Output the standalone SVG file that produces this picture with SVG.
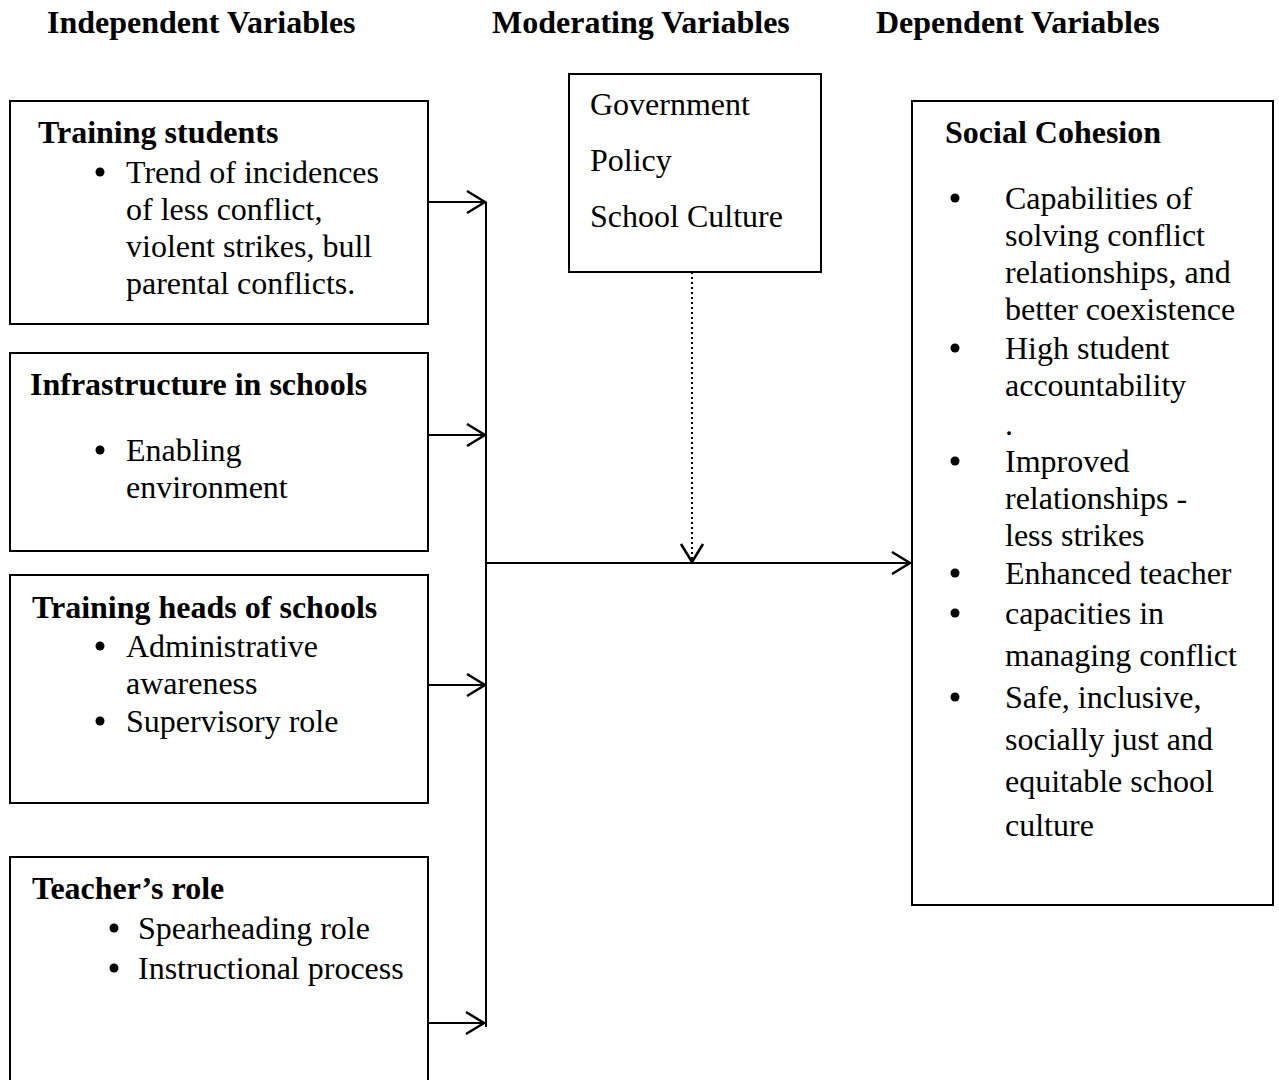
<svg xmlns="http://www.w3.org/2000/svg" width="1279" height="1080" viewBox="0 0 1279 1080">
<style>
text{font-family:"Liberation Serif","Times New Roman",serif;font-size:32px;fill:#000}
.b{font-weight:bold}
.box{fill:#fff;stroke:#000;stroke-width:2}
.ln{stroke:#000;stroke-width:2;fill:none}
.dot{fill:#000}
</style>
<defs>
<marker id="ah" viewBox="0 0 24 26" refX="21" refY="13" markerWidth="24" markerHeight="26" markerUnits="userSpaceOnUse" orient="auto">
<path d="M3,2 L21,13 L3,24" fill="none" stroke="#000" stroke-width="2.5"/>
</marker>
</defs>
<rect width="1279" height="1080" fill="#fff"/>
<g id="headers">
<text class="b" x="47" y="33">Independent Variables</text>
<text class="b" x="492" y="33">Moderating Variables</text>
<text class="b" x="876" y="33">Dependent Variables</text>
</g>
<g id="node-training-students">
<rect class="box" x="10" y="101" width="418" height="223"/>
<text class="b" x="38" y="143">Training students</text>
<circle class="dot" cx="100" cy="172" r="4.5"/>
<text x="126" y="183">Trend of incidences</text>
<text x="126" y="220">of less conflict,</text>
<text x="126" y="257">violent strikes, bull</text>
<text x="126" y="294">parental conflicts.</text>
</g>
<g id="node-infrastructure">
<rect class="box" x="10" y="353" width="418" height="198"/>
<text class="b" x="30" y="395">Infrastructure in schools</text>
<circle class="dot" cx="100" cy="450" r="4.5"/>
<text x="126" y="461">Enabling</text>
<text x="126" y="498">environment</text>
</g>
<g id="node-training-heads">
<rect class="box" x="10" y="575" width="418" height="228"/>
<text class="b" x="32" y="618">Training heads of schools</text>
<circle class="dot" cx="100" cy="646" r="4.5"/>
<text x="126" y="657">Administrative</text>
<text x="126" y="694">awareness</text>
<circle class="dot" cx="100" cy="721" r="4.5"/>
<text x="126" y="732">Supervisory role</text>
</g>
<g id="node-teachers-role">
<rect class="box" x="10" y="857" width="418" height="230"/>
<text class="b" x="32" y="899">Teacher’s role</text>
<circle class="dot" cx="114" cy="928" r="4.5"/>
<text x="138" y="939">Spearheading role</text>
<circle class="dot" cx="114" cy="968" r="4.5"/>
<text x="138" y="979">Instructional process</text>
</g>
<g id="node-moderating">
<rect class="box" x="569" y="74" width="252" height="198"/>
<text x="590" y="115">Government</text>
<text x="590" y="171">Policy</text>
<text x="590" y="227">School Culture</text>
</g>
<g id="node-social-cohesion">
<rect class="box" x="912" y="101" width="361" height="804"/>
<text class="b" x="945" y="143">Social Cohesion</text>
<circle class="dot" cx="955" cy="198" r="4.5"/>
<text x="1005" y="209">Capabilities of</text>
<text x="1005" y="246">solving conflict</text>
<text x="1005" y="283">relationships, and</text>
<text x="1005" y="320">better coexistence</text>
<circle class="dot" cx="955" cy="348" r="4.5"/>
<text x="1005" y="359">High student</text>
<text x="1005" y="396">accountability</text>
<text x="1005" y="435">.</text>
<circle class="dot" cx="955" cy="461" r="4.5"/>
<text x="1005" y="472">Improved</text>
<text x="1005" y="509">relationships -</text>
<text x="1005" y="546">less strikes</text>
<circle class="dot" cx="955" cy="573" r="4.5"/>
<text x="1005" y="584">Enhanced teacher</text>
<circle class="dot" cx="955" cy="613" r="4.5"/>
<text x="1005" y="624">capacities in</text>
<text x="1005" y="666">managing conflict</text>
<circle class="dot" cx="955" cy="697" r="4.5"/>
<text x="1005" y="708">Safe, inclusive,</text>
<text x="1005" y="750">socially just and</text>
<text x="1005" y="792">equitable school</text>
<text x="1005" y="836">culture</text>
</g>
<g id="connectors">
<line class="ln" x1="486" y1="202" x2="486" y2="1027"/>
<line class="ln" x1="428" y1="202" x2="485" y2="202" marker-end="url(#ah)"/>
<line class="ln" x1="428" y1="435" x2="485" y2="435" marker-end="url(#ah)"/>
<line class="ln" x1="428" y1="685" x2="485" y2="685" marker-end="url(#ah)"/>
<line class="ln" x1="428" y1="1023" x2="484" y2="1023" marker-end="url(#ah)"/>
<line class="ln" x1="487" y1="563" x2="910" y2="563" marker-end="url(#ah)"/>
<line class="ln" x1="692" y1="272" x2="692" y2="562" stroke-dasharray="2,3" marker-end="url(#ah)"/>
</g>
</svg>
